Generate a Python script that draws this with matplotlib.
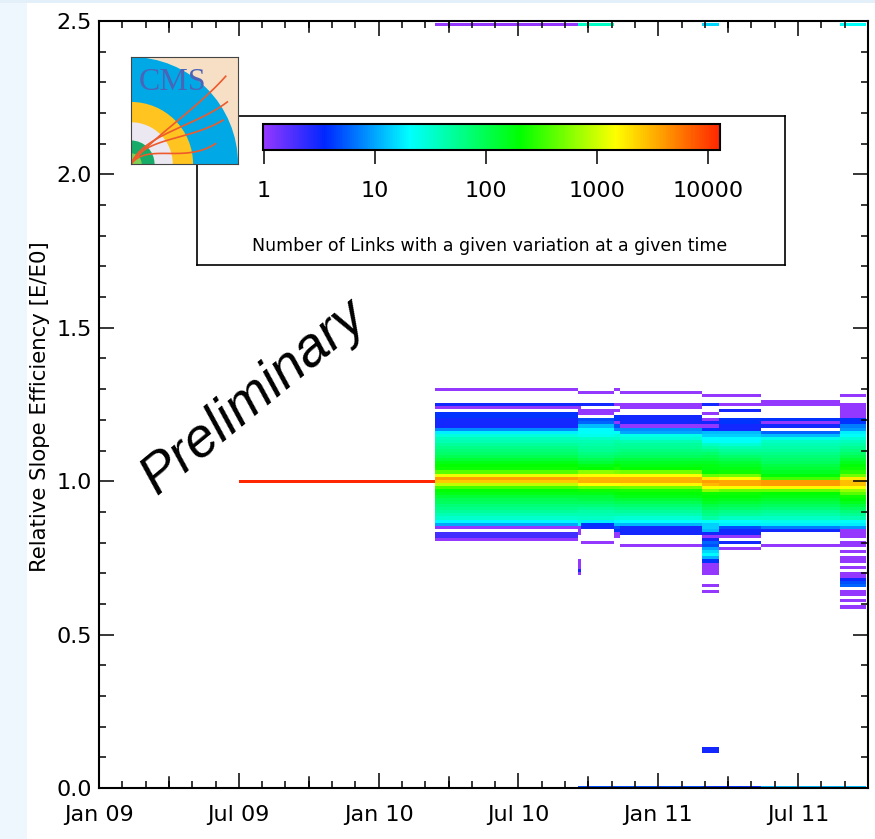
import numpy as np
import matplotlib
matplotlib.use("Agg")
import matplotlib.pyplot as plt
from matplotlib.colors import LinearSegmentedColormap, LogNorm
from matplotlib.patches import Circle, Rectangle
from matplotlib.ticker import MultipleLocator, FixedLocator

W, H = 875, 839

# months since Jan 09
month_edges = [6, 14.44, 20.57, 20.70, 22.12, 22.37, 25.86, 26.59, 28.39, 31.78, 32.93]
date_ticks = [0, 6, 12, 18, 24, 30]
date_labels = ["Jan 09", "Jul 09", "Jan 10", "Jul 10", "Jan 11", "Jul 11"]
legend_ticks = [1, 10, 100, 1000, 10000]
legend_labels = ["1", "10", "100", "1000", "10000"]

# links per 0.01 bin, each list runs downward from E/E0 = 1.30
col_a = [1, 0, 0, 0, 0, 3, 1, 0, 4, 4,
         3, 3, 3, 8, 18, 28, 38, 40, 50, 60,
         70, 80, 100, 130, 170, 210, 220, 400, 1300, 3800,
         2500, 900, 350, 200, 170, 130, 100, 90, 70, 60,
         50, 40, 32, 20, 10, 1, 0, 2, 2, 1]
col_t = [0, 1, 0, 0, 0, 3, 1, 1, 1, 0,
         5, 6, 12, 20, 22, 24, 35, 40, 45, 50,
         55, 65, 75, 100, 130, 170, 210, 600, 1500, 3200,
         3200, 1500, 450, 220, 170, 130, 110, 90, 70, 55,
         45, 40, 35, 30, 20, 1, 1, 1, 0, 0,
         0, 0, 0, 0, 0, 0, 1, 1, 1, 3,
         1]
col_b = [0, 1, 0, 0, 0, 3, 0, 1, 1, 0,
         5, 6, 12, 20, 22, 24, 35, 40, 45, 50,
         55, 65, 75, 100, 130, 170, 210, 600, 1500, 3200,
         3200, 1500, 450, 220, 170, 130, 110, 90, 70, 55,
         45, 40, 35, 18, 4, 3, 0, 0, 0, 0,
         1]
col_c = [1, 0, 0, 0, 0, 1, 0, 1, 0, 4,
         4, 1, 5, 8, 22, 28, 35, 45, 50, 55,
         60, 70, 90, 120, 160, 200, 240, 550, 1500, 3200,
         3200, 1500, 450, 230, 190, 160, 130, 100, 75, 60,
         50, 40, 30, 20, 12, 5, 4, 1, 1, 0]
col_d = [0, 1, 0, 0, 0, 1, 1, 0, 0, 3,
         3, 3, 1, 8, 10, 25, 30, 40, 50, 55,
         65, 75, 90, 120, 150, 170, 210, 500, 1500, 3200,
         3200, 1600, 500, 240, 200, 170, 130, 100, 75, 60,
         50, 40, 30, 21, 11, 3, 3, 3, 0, 0,
         0, 1]
col_e = [0, 0, 1, 0, 0, 3, 0, 0, 1, 0,
         1, 3, 1, 4, 12, 14, 21, 22, 35, 45,
         60, 80, 100, 120, 150, 170, 180, 200, 450, 1800,
         3800, 3000, 1400, 600, 220, 200, 170, 150, 110, 90,
         70, 60, 45, 22, 14, 14, 12, 3, 1, 3,
         6, 5, 10, 15, 20, 11, 4, 1, 1, 1,
         1, 0, 0, 0, 1, 0, 1]
col_f = [0, 0, 1, 0, 0, 1, 0, 3, 0, 0,
         4, 4, 3, 3, 12, 14, 20, 22, 30, 40,
         50, 60, 80, 100, 130, 150, 170, 230, 500, 1500,
         3500, 3500, 1400, 450, 220, 190, 160, 130, 100, 80,
         60, 50, 35, 21, 18, 5, 3, 3, 1, 0,
         3, 0, 1]
col_g = [0, 0, 0, 0, 1, 1, 0, 0, 0, 0,
         4, 1, 3, 0, 6, 12, 25, 35, 40, 45,
         50, 60, 70, 80, 90, 110, 130, 150, 190, 350,
         4000, 4000, 1600, 450, 200, 170, 140, 110, 90, 70,
         55, 45, 35, 24, 18, 7, 3, 0, 0, 0,
         0, 1]
col_h = [0, 0, 1, 0, 0, 1, 1, 1, 1, 1,
         4, 4, 7, 9, 18, 22, 30, 38, 45, 55,
         65, 80, 100, 130, 160, 190, 220, 280, 500, 1800,
         2800, 2800, 1500, 650, 400, 230, 200, 160, 120, 90,
         70, 55, 40, 22, 18, 9, 1, 1, 1, 0,
         1, 1, 0, 1, 0, 1, 1, 0, 1, 0,
         1, 1, 3, 5, 6, 0, 1, 1, 0, 1,
         0, 1]
columns = [col_a, col_t, col_b, col_c, col_d, col_e, col_f, col_g, col_h]

# the rest of the bins
start_bin = [12600, 0, 0, 0, 0, 0, 0, 0, 0, 0]   # at 1.00, all links start there
top_row = [0, 1, 35, 35, 0, 0, 15, 0, 0, 22]     # at 2.49
zero_row = [0, 0, 5, 5, 5, 5, 4, 4, 11, 12]      # at 0.00
low_row = [0, 0, 0, 0, 0, 0, 3, 0, 0, 0]         # at 0.12 and 0.13

grid = np.zeros((251, 10))
grid[100, :] = start_bin
grid[249, :] = top_row
grid[0, :] = zero_row
grid[12, :] = low_row
grid[13, :] = low_row
for c, col in enumerate(columns):
    for i, v in enumerate(col):
        grid[130 - i, c + 1] = v

cmap = LinearSegmentedColormap.from_list("links", [
    (0.0, (0.58, 0.22, 1.0)),
    (0.134, (0.0, 0.15, 1.0)),
    (0.32, (0.0, 1.0, 1.0)),
    (0.563, (0.0, 1.0, 0.0)),
    (0.773, (1.0, 1.0, 0.0)),
    (1.0, (1.0, 0.15, 0.0)),
])
norm = LogNorm(0.98, 12900)


def px_axes(x0, y0, x1, y1, **kw):
    # axes from picture pixels, y counted from the top
    return fig.add_axes([x0 / W, 1 - y1 / H, (x1 - x0) / W, (y1 - y0) / H], **kw)


fig = plt.figure(figsize=(W / 100, H / 100), dpi=100, facecolor="white")
fig.patches.append(Rectangle((0, 0), 27 / W, 1, transform=fig.transFigure, color="#eef6fe", lw=0))
fig.patches.append(Rectangle((0, 1 - 3 / H), 1, 3 / H, transform=fig.transFigure, color="#e3f0fa", lw=0))

ax = px_axes(99, 21, 868, 788)
y_edges = np.arange(252) * 0.01 - 0.005
mesh = ax.pcolormesh(month_edges, y_edges, np.ma.masked_equal(grid, 0), cmap=cmap, norm=norm)
ax.set_xlim(0, 33)
ax.set_ylim(0, 2.5)

ax.xaxis.set_major_locator(FixedLocator(date_ticks))
ax.set_xticklabels(date_labels)
ax.xaxis.set_minor_locator(MultipleLocator(1))
ax.yaxis.set_major_locator(MultipleLocator(0.5))
ax.yaxis.set_minor_locator(MultipleLocator(0.1))
ax.yaxis.set_major_formatter("{x:.1f}")
ax.tick_params(which="major", direction="in", top=True, right=True, length=10.8, width=1.1, labelsize=16)
ax.tick_params(which="minor", direction="in", top=True, right=True, length=5, width=1.1)
ax.tick_params(axis="x", which="major", pad=12)
ax.tick_params(axis="y", which="major", pad=5)
for s in ax.spines.values():
    s.set_linewidth(1.5)

# quarter ticks are a bit longer than the monthly ones
tr = ax.get_xaxis_transform()
for m in range(3, 33, 6):
    ax.plot([m, m], [0, 11 / 767], transform=tr, color="k", lw=1.1, clip_on=False)
    ax.plot([m, m], [1, 1 - 11 / 767], transform=tr, color="k", lw=1.1, clip_on=False)

fig.text(40 / W, 1 - 407 / H, "Relative Slope Efficiency [E/E0]", rotation=90,
         ha="center", va="center", fontsize=15.3)
fig.text(254 / W, 1 - 398 / H, "Preliminary", rotation=39.5, rotation_mode="anchor",
         ha="center", va="center", fontsize=39.5, style="italic", family="Liberation Sans")

# legend box
box = px_axes(197, 116, 785, 265, facecolor="white")
box.set_xticks([])
box.set_yticks([])
for s in box.spines.values():
    s.set_linewidth(1.2)
box.text(0.4975, 0.125, "Number of Links with a given variation at a given time",
         transform=box.transAxes, ha="center", va="center", fontsize=12.5)

cax = px_axes(263, 124, 720, 150)
cb = fig.colorbar(mesh, cax=cax, orientation="horizontal")
cb.set_ticks(legend_ticks, labels=legend_labels)
cb.ax.minorticks_off()
cb.ax.tick_params(length=10, width=1.1, labelsize=16, pad=12)
cb.outline.set_linewidth(1.5)

# CMS logo
logo = px_axes(131, 57, 238, 164, facecolor="#f6dfc4")
logo.set_xlim(0, 1)
logo.set_ylim(0, 1)
logo.set_xticks([])
logo.set_yticks([])
for s in logo.spines.values():
    s.set_linewidth(0.8)
    s.set_color("#444444")
for r, c in [(1.0, "#00a9e6"), (0.58, "#ffc420"), (0.39, "#ebe8f2"), (0.22, "#16ab68"), (0.1, "#7fcf55")]:
    logo.add_patch(Circle((0, 0), r, color=c, lw=0))
logo.text(0.39, 0.76, "CMS", ha="center", va="center", fontsize=23, color="#4a64b8",
          family="Liberation Serif")
track_c1 = [(0.2, 0.25), (0.12, 0.28), (0.12, 0.25), (0.15, 0.2)]
track_c2 = [(0.6, 0.5), (0.6, 0.35), (0.55, 0.22), (0.5, 0.0)]
track_ends = [(0.885, 0.82), (0.9, 0.58), (0.86, 0.41), (0.79, 0.19)]
t = np.linspace(0, 1, 60)
for c1, c2, e in zip(track_c1, track_c2, track_ends):
    xs = 3 * (1 - t) ** 2 * t * c1[0] + 3 * (1 - t) * t ** 2 * c2[0] + t ** 3 * e[0]
    ys = 3 * (1 - t) ** 2 * t * c1[1] + 3 * (1 - t) * t ** 2 * c2[1] + t ** 3 * e[1]
    logo.plot(xs, ys, color="#ee5a2c", lw=1.2)

fig.savefig("out.png", dpi=100)
